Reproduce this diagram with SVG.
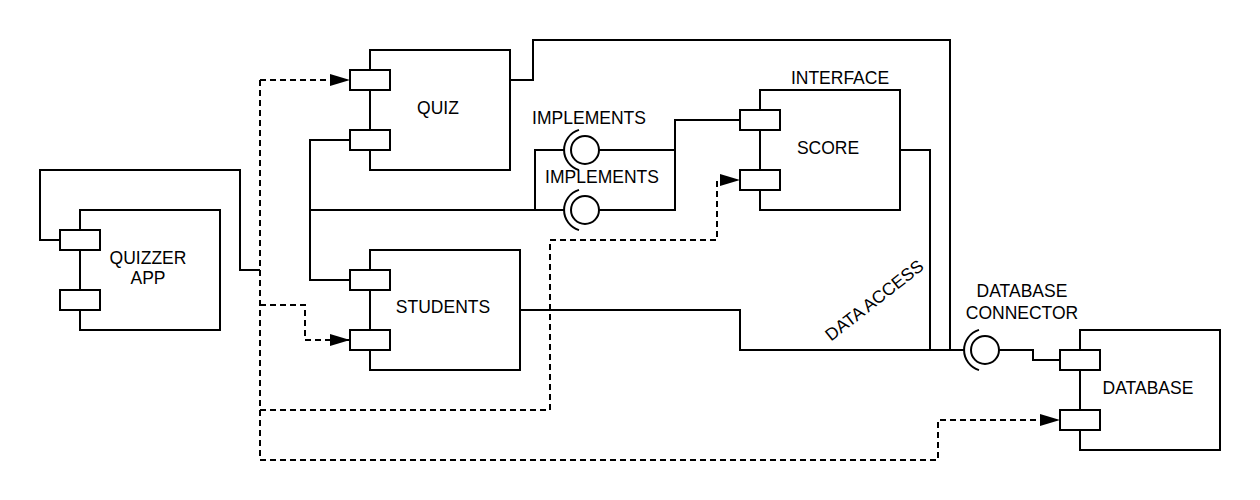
<svg xmlns="http://www.w3.org/2000/svg" width="1260" height="500" viewBox="0 0 1260 500">
<style>
  .box { fill: #ffffff; stroke: #000000; stroke-width: 2; }
  .port { fill: #ffffff; stroke: #000000; stroke-width: 2; }
  .line { fill: none; stroke: #000000; stroke-width: 2; }
  .dash { fill: none; stroke: #000000; stroke-width: 2; stroke-dasharray: 6 4; }
  .lbl { font-family: "Liberation Sans", Arial, sans-serif; font-size: 17.5px; fill: #000000; text-anchor: middle; }
</style>
<defs>
  <marker id="arrow" markerUnits="userSpaceOnUse" markerWidth="20" markerHeight="12" refX="20" refY="6" orient="auto">
    <path d="M0,0 L20,6 L0,12 Z" fill="#000000"/>
  </marker>
</defs>
<rect width="1260" height="500" fill="#ffffff"/>

<g id="connectors">
  <path class="line" d="M60,240 H40 V170 H240 V270 H260"/>
  <path class="line" d="M510,80 H533 V40 H950 V350"/>
  <path class="line" d="M350,140 H310 V280 H350"/>
  <path class="line" d="M310,210 H564"/>
  <path class="line" d="M564,150 H535 V210"/>
  <path class="line" d="M599,150 H675 V120 H740"/>
  <path class="line" d="M599,210 H675 V150"/>
  <path class="line" d="M900,150 H930 V350"/>
  <path class="line" d="M520,310 H740 V350 H964"/>
  <path class="line" d="M999,350 H1033 V360 H1060"/>
  <path class="dash" d="M260,80 V460"/>
  <path class="dash" d="M260,80 H350" marker-end="url(#arrow)"/>
  <path class="dash" d="M260,305 H305 V340 H350" marker-end="url(#arrow)"/>
  <path class="dash" d="M260,410 H550 V240 H717 V180 H740" marker-end="url(#arrow)"/>
  <path class="dash" d="M260,460 H938 V420 H1060" marker-end="url(#arrow)"/>
  <text class="lbl" x="878" y="305" transform="rotate(-38 878 305)">DATA ACCESS</text>
</g>

<g id="quizzer-app">
  <rect class="box" x="80" y="210" width="140" height="120"/>
  <rect class="port" x="60" y="230" width="40" height="20"/>
  <rect class="port" x="60" y="290" width="40" height="20"/>
  <text class="lbl" x="148" y="264">QUIZZER</text>
  <text class="lbl" x="148" y="284">APP</text>
</g>

<g id="quiz">
  <rect class="box" x="370" y="50" width="140" height="120"/>
  <rect class="port" x="350" y="70" width="40" height="20"/>
  <rect class="port" x="350" y="130" width="40" height="20"/>
  <text class="lbl" x="438" y="114">QUIZ</text>
</g>

<g id="students">
  <rect class="box" x="370" y="250" width="150" height="120"/>
  <rect class="port" x="350" y="270" width="40" height="20"/>
  <rect class="port" x="350" y="330" width="40" height="20"/>
  <text class="lbl" x="443" y="313">STUDENTS</text>
</g>

<g id="score">
  <rect class="box" x="760" y="90" width="140" height="120"/>
  <rect class="port" x="740" y="110" width="40" height="20"/>
  <rect class="port" x="740" y="170" width="40" height="20"/>
  <text class="lbl" x="828" y="154">SCORE</text>
  <text class="lbl" x="840" y="84">INTERFACE</text>
</g>

<g id="implements-1">
  <circle class="line" cx="585" cy="150" r="14"/>
  <path class="line" d="M579,129.9 A21,21 0 0 0 579,170.1"/>
  <text class="lbl" x="589" y="124">IMPLEMENTS</text>
</g>

<g id="implements-2">
  <circle class="line" cx="585" cy="210" r="14"/>
  <path class="line" d="M579,189.9 A21,21 0 0 0 579,230.1"/>
  <text class="lbl" x="602" y="183">IMPLEMENTS</text>
</g>

<g id="database-connector">
  <circle class="line" cx="985" cy="350" r="14"/>
  <path class="line" d="M979,329.9 A21,21 0 0 0 979,370.1"/>
  <text class="lbl" x="1022" y="297">DATABASE</text>
  <text class="lbl" x="1022" y="319">CONNECTOR</text>
</g>

<g id="database">
  <rect class="box" x="1080" y="330" width="140" height="120"/>
  <rect class="port" x="1060" y="350" width="40" height="20"/>
  <rect class="port" x="1060" y="410" width="40" height="20"/>
  <text class="lbl" x="1148" y="394">DATABASE</text>
</g>
</svg>
